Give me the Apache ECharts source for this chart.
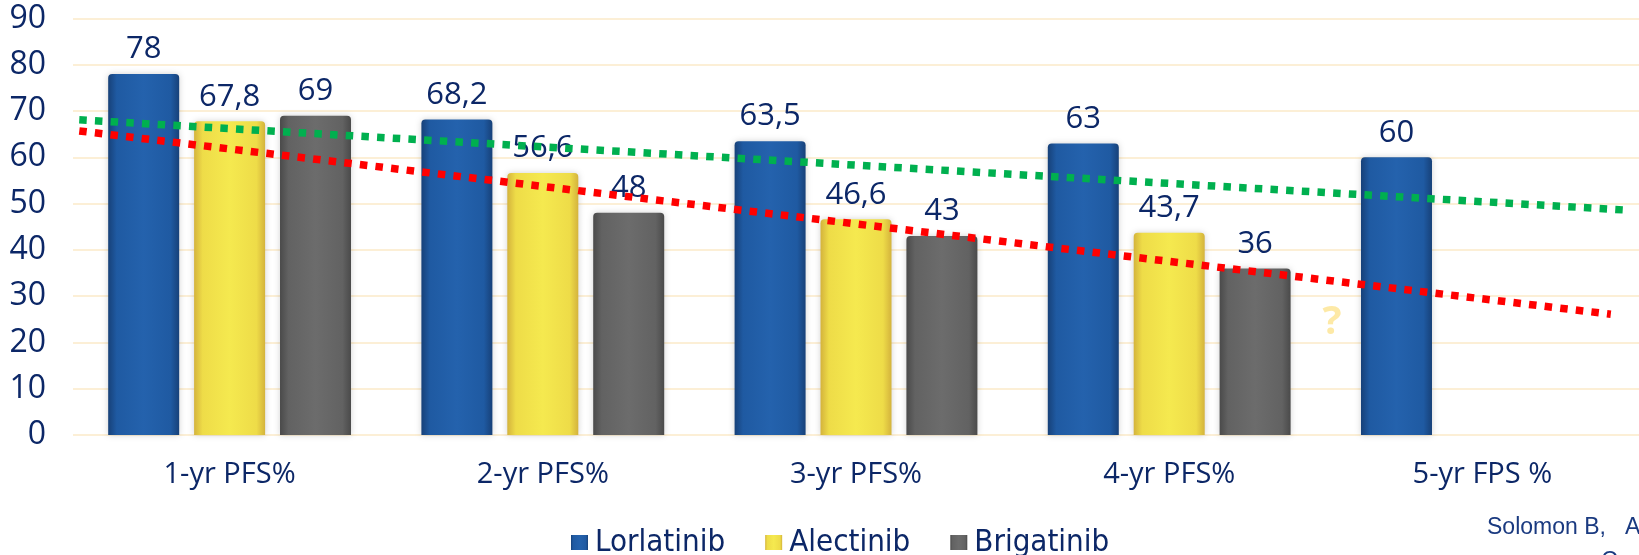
<!DOCTYPE html>
<html>
<head>
<meta charset="utf-8">
<script src="https://cdn.jsdelivr.net/npm/echarts@6/dist/echarts.min.js"></script>
<style>
html,body{margin:0;padding:0;background:#fff;}
#chart{width:1639px;height:555px;}
</style>
</head>
<body>
<div id="chart"></div>
<script>
const categories = ['1-yr PFS%', '2-yr PFS%', '3-yr PFS%', '4-yr PFS%', '5-yr FPS %'];
const seriesNames = ['Lorlatinib', 'Alectinib', 'Brigatinib'];
const lorlatinib = [78, 68.2, 63.5, 63, 60];
const alectinib = [67.8, 56.6, 46.6, 43.7, null];
const brigatinib = [69, 48, 43, 36, null];
const yMin = 0, yMax = 90, yStep = 10;
// dotted trend lines, in [category index, value]
const greenTrend = [[-0.48, 68.1], [4.46, 48.6]];
const redTrend = [[-0.48, 65.7], [4.41, 26.1]];
const questionMark = [[3.52, 24.3]];
const sourceText = 'Solomon B,   A';

const NAVY = '#0c2767';
function hGrad(edge, mid, mid2) {
  return new echarts.graphic.LinearGradient(0, 0, 1, 0, [
    {offset: 0, color: edge}, {offset: 0.12, color: mid},
    {offset: 0.5, color: mid2}, {offset: 0.88, color: mid}, {offset: 1, color: edge}
  ]);
}
const fills = [
  hGrad('#174179', '#1f5aa2', '#2462ad'),
  hGrad('#d4b33c', '#eedc48', '#f5e94f'),
  hGrad('#4a4a4a', '#626262', '#6c6c6c')
];
const datas = [lorlatinib, alectinib, brigatinib];

const chart = echarts.init(document.getElementById('chart'), null, {renderer: 'canvas'});
const barSeries = seriesNames.map((n, i) => ({
  name: n,
  type: 'bar',
  data: datas[i],
  barWidth: 71,
  barGap: '21%',
  itemStyle: {
    color: fills[i],
    borderRadius: [4, 4, 0, 0],
    shadowColor: 'rgba(0,0,0,0.18)',
    shadowBlur: 6
  },
  label: {
    show: true,
    position: 'top',
    distance: 9,
    color: NAVY,
    fontFamily: 'Open Sans',
    fontSize: 31,
    formatter: p => (p.value == null ? '' : String(p.value).replace('.', ','))
  },
  z: 2
}));

function trend(data, color, extra) {
  return Object.assign({
    type: 'line',
    xAxisIndex: 1,
    data: data,
    symbol: 'none',
    silent: true,
    lineStyle: {color: color, width: 7.5, type: [7.5, 8.2], cap: 'butt'},
    z: 5
  }, extra || {});
}

chart.setOption({
  animation: false,
  backgroundColor: '#ffffff',
  grid: {left: 73, right: 0, top: 18.5, bottom: 120, containLabel: false},
  legend: {
    data: seriesNames,
    left: 566,
    top: 522,
    itemWidth: 17,
    itemHeight: 15,
    itemGap: 40,
    icon: 'rect',
    textStyle: {color: NAVY, fontFamily: 'DejaVu Sans Condensed', fontSize: 31, padding: [0, 0, 0, 2]}
  },
  xAxis: [
    {
      type: 'category',
      data: categories,
      axisLine: {show: false},
      axisTick: {show: false},
      axisLabel: {color: NAVY, fontFamily: 'Open Sans', fontSize: 29, margin: 25}
    },
    {type: 'value', min: -0.5, max: 4.5, show: false}
  ],
  yAxis: {
    type: 'value',
    min: yMin, max: yMax, interval: yStep,
    axisLine: {show: false},
    axisTick: {show: false},
    splitLine: {lineStyle: {color: '#fcefd6', width: 2}},
    axisLabel: {color: NAVY, fontFamily: 'Open Sans', fontSize: 32, margin: 27}
  },
  series: barSeries.concat([
    trend(greenTrend, '#00b04f'),
    trend(redTrend, '#ff0000', {
      markPoint: {
        symbol: 'circle', symbolSize: 0,
        data: questionMark.map(c => ({coord: c})),
        label: {show: true, position: 'inside', formatter: '?', color: '#fde9a6',
          fontFamily: 'Open Sans', fontWeight: 'bold', fontSize: 40}
      }
    })
  ]),
  graphic: [
    {type: 'text', left: 1487, top: 516, silent: true,
      style: {text: sourceText, fill: '#1a3a80', font: '23px "Liberation Sans", Arial, sans-serif'}},
    {type: 'text', left: 1601, top: 550, silent: true,
      style: {text: 'C', fill: '#1a3a80', font: '23px "Liberation Sans", Arial, sans-serif'}}
  ]
});
</script>
</body>
</html>
